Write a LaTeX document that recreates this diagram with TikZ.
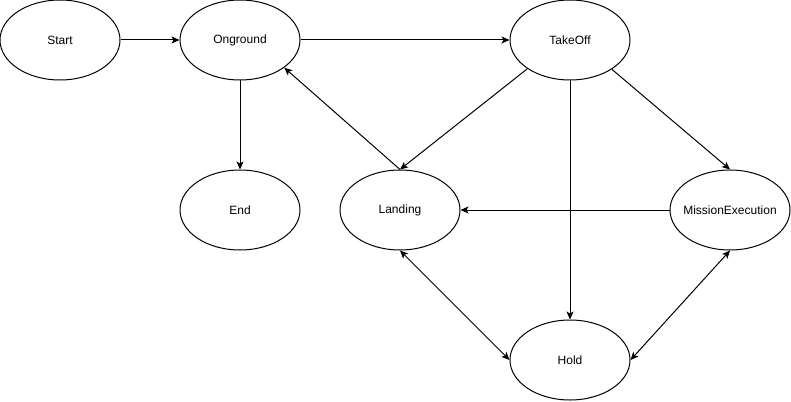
\documentclass[tikz,border=0pt]{standalone}
\usepackage{fontspec}
\setmainfont{Liberation Sans}
\usetikzlibrary{shapes.geometric,arrows.meta}
\begin{document}
\begin{tikzpicture}[x=1pt,y=-1pt,
  state/.style={draw,ellipse,line width=1pt,minimum width=120pt,minimum height=80pt,inner sep=0pt,font=\fontsize{12}{14}\selectfont},
  conn/.style={draw,line width=1pt,-{Stealth[length=8pt,width=7pt,inset=2pt]}},
  both/.style={draw,line width=1pt,{Stealth[length=8pt,width=7pt,inset=2pt]}-{Stealth[length=8pt,width=7pt,inset=2pt]}}]
\useasboundingbox (0,0) rectangle (791,401);
\node[state] (start) at (60,40) {Start};
\node[state] (onground) at (240,40) {Onground};
\node[state] (takeoff) at (570,40) {TakeOff};
\node[state] (end) at (240,210) {End};
\node[state] (landing) at (400,210) {Landing};
\node[state] (mission) at (730,210) {\makebox[0pt]{MissionExecution}};
\node[state] (hold) at (570,360) {Hold};
\draw[conn] (start) -- (onground);
\draw[conn] (onground) -- (takeoff);
\draw[conn] (onground.south) -- (end.north);
\draw[conn] (landing.north) -- (onground.-32);
\draw[conn] (takeoff.214) -- (landing.north);
\draw[conn] (takeoff.south) -- (hold.north);
\draw[conn] (takeoff.-35) -- (mission.north);
\draw[conn] (mission.west) -- (landing.east);
\draw[both] (landing.south) -- (hold.west);
\draw[both] (mission.south) -- (hold.east);
\end{tikzpicture}
\end{document}
